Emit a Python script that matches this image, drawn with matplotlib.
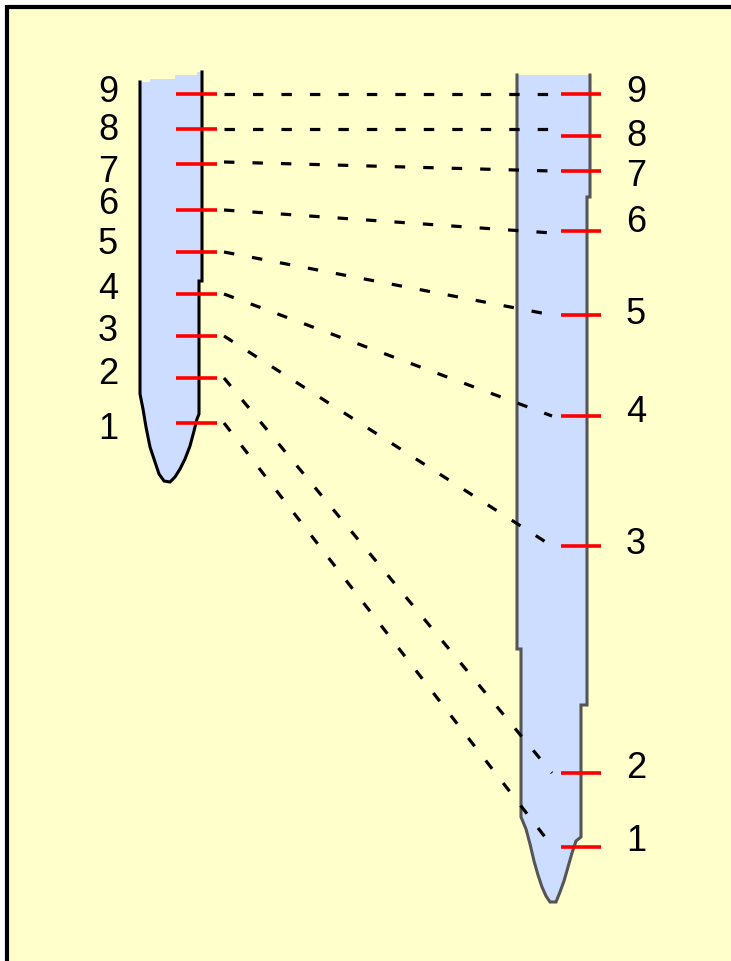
import matplotlib
matplotlib.use("Agg")
import matplotlib.pyplot as plt
from matplotlib.patches import Polygon

plt.rcParams['lines.scale_dashes'] = False

# ---- data ----
labels = ["1", "2", "3", "4", "5", "6", "7", "8", "9"]
left_tick_y = [424, 379, 337, 295, 253, 211, 165, 130, 95]
left_label_y = [430, 375, 332, 290, 245, 205, 173, 131, 93]
right_tick_y = [848, 774, 547, 417, 316, 232, 172, 137, 95]
right_label_y = [842, 769, 545, 413, 315, 222, 177, 136, 93]
link_start_y = [424, 379, 337, 295, 253, 211, 163, 130, 95]
link_end_y = [847, 774, 547, 417, 316, 234, 172, 130, 95]

# outlines of the two shapes (left side top->bottom, right side bottom->top)
left_shape_left = [(140, 83), (140, 395), (143, 410), (146, 428), (150, 448),
                   (155, 463), (159, 475), (164, 482), (170, 483)]
left_shape_right = [(170, 483), (175, 478), (180, 470), (185, 460), (190, 447),
                    (194, 432), (197, 420), (199, 415), (199, 282), (202, 282), (202, 73)]
left_shape_top = [(202, 73), (197, 73), (197, 76), (175, 76), (175, 80), (150, 80), (150, 83), (140, 83)]

right_shape_left = [(517, 76), (517, 650), (521, 650), (521, 818), (526, 830), (530, 845),
                    (534, 862), (538, 876), (542, 888), (546, 897), (550, 903), (556, 903)]
right_shape_right = [(556, 903), (560, 893), (564, 882), (568, 868), (572, 854), (576, 842),
                     (581, 838), (581, 706), (587, 706), (587, 198), (590, 198), (590, 76)]

BG = "#FFFFCC"
FILL = "#CCDDFF"
GRAY = "#555555"
RED = "#FF0000"

fig = plt.figure(figsize=(7.31, 9.62), dpi=100)
fig.patch.set_facecolor("white")
ax = fig.add_axes([0, 0, 1, 1])
ax.set_xlim(0, 731)
ax.set_ylim(962, 0)
ax.axis("off")

# background and border
ax.add_patch(Polygon([(7, 7), (731, 7), (731, 962), (7, 962)], closed=True,
                     facecolor=BG, edgecolor="none", zorder=0))
ax.plot([7, 731], [7.5, 7.5], color="black", lw=3.0, solid_capstyle="butt", zorder=5)
ax.plot([7, 7], [6, 962], color="black", lw=3.0, solid_capstyle="butt", zorder=5)

# shapes
lpoly = left_shape_left + left_shape_right[1:] + left_shape_top[1:]
ax.add_patch(Polygon(lpoly, closed=True, facecolor=FILL, edgecolor="none", zorder=1))
lx, ly = zip(*(left_shape_left + left_shape_right[1:]))
ax.plot(lx, ly, color="black", lw=2.2, solid_joinstyle="miter", zorder=2)

rpoly = right_shape_left + right_shape_right[1:]
ax.add_patch(Polygon(rpoly, closed=True, facecolor=FILL, edgecolor="none", zorder=1))
rx, ry = zip(*rpoly)
ax.plot(rx, ry, color=GRAY, lw=2.2, solid_joinstyle="miter", zorder=2)

# links
for y0, y1 in zip(link_start_y, link_end_y):
    ax.plot([224, 552], [y0, y1], color="black", lw=2.3, dashes=(7.5, 13),
            dash_capstyle="butt", zorder=3)

# ticks
for y in left_tick_y:
    ax.plot([176, 217], [y, y], color=RED, lw=2.6, solid_capstyle="butt", zorder=4)
for y in right_tick_y:
    ax.plot([561, 601], [y, y], color=RED, lw=2.6, solid_capstyle="butt", zorder=4)

font = dict(family=["Liberation Sans Narrow", "Liberation Sans", "DejaVu Sans"],
            fontsize=26, color="black", ha="center", va="center", zorder=6)
for lab, y in zip(labels, left_label_y):
    ax.text(108, y, lab, **font)
for lab, y in zip(labels, right_label_y):
    ax.text(636, y, lab, **font)

fig.savefig("out.png", dpi=100, facecolor=fig.get_facecolor())
